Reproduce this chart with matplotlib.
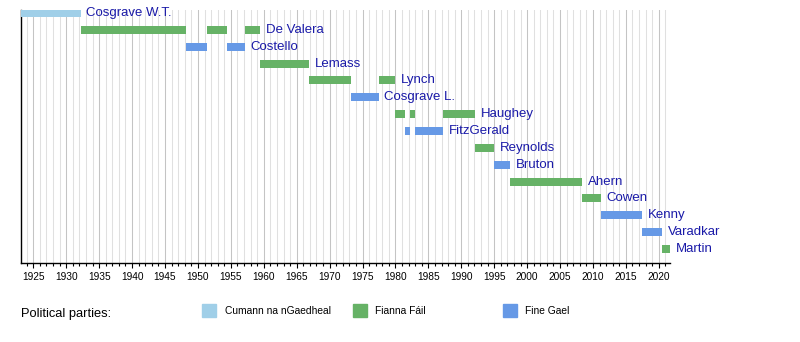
import matplotlib.pyplot as plt
import matplotlib.patches as mpatches
from matplotlib.ticker import MultipleLocator

# taoisigh, top to bottom
names = ['Cosgrave W.T.', 'De Valera', 'Costello', 'Lemass', 'Lynch', 'Cosgrave L.',
         'Haughey', 'FitzGerald', 'Reynolds', 'Bruton', 'Ahern', 'Cowen', 'Kenny',
         'Varadkar', 'Martin']
# terms as (start, end) in decimal years
terms = [
    [(1922.93, 1932.19)],
    [(1932.19, 1948.15), (1951.45, 1954.47), (1957.16, 1959.48)],
    [(1948.15, 1951.45), (1954.47, 1957.16)],
    [(1959.48, 1966.86)],
    [(1966.86, 1973.20), (1977.45, 1979.94)],
    [(1973.20, 1977.45)],
    [(1979.94, 1981.46), (1982.20, 1982.95), (1987.20, 1992.10)],
    [(1981.46, 1982.20), (1982.95, 1987.20)],
    [(1992.10, 1994.96)],
    [(1994.96, 1997.47)],
    [(1997.47, 2008.35)],
    [(2008.35, 2011.19)],
    [(2011.19, 2017.45)],
    [(2017.45, 2020.49)],
    [(2020.49, 2021.8)],
]
party = ['CnG', 'FF', 'FG', 'FF', 'FF', 'FG', 'FF', 'FG', 'FF', 'FG', 'FF', 'FF', 'FG', 'FG', 'FF']

party_names = ['Cumann na nGaedheal', 'Fianna Fáil', 'Fine Gael']
party_keys = ['CnG', 'FF', 'FG']
colors = {'CnG': '#a0cfe8', 'FF': '#66b266', 'FG': '#6699e6'}

x0, x1 = 1923.13, 2021.7

plt.rcParams['font.family'] = ['Liberation Sans', 'DejaVu Sans']

fig = plt.figure(figsize=(8, 3.42), dpi=100)
ax = fig.add_axes([21/800, 1 - 263/342, (670-21)/800, 253/342])

for i in range(len(names)):
    for s, e in terms[i]:
        ax.barh(i, e - s, left=s, height=0.47, color=colors[party[i]], zorder=3)
    last = min(terms[i][-1][1], x1)
    ax.annotate(names[i], (last, i), xytext=(4, 0), textcoords='offset points',
                va='center', ha='left', fontsize=9.5, color='#1a1aa8',
                annotation_clip=False)

ax.set_xlim(x0, x1)
ax.set_ylim(14.83, -0.18)

ax.xaxis.set_major_locator(MultipleLocator(5))
ax.xaxis.set_minor_locator(MultipleLocator(1))
ax.grid(which='minor', axis='x', color='#e0e0e0', lw=0.75, zorder=0)
ax.grid(which='major', axis='x', color='#c4c4c4', lw=0.75, zorder=0)
ax.tick_params(axis='x', which='major', length=3.5, width=0.8, labelsize=7.3, pad=3)
ax.tick_params(axis='x', which='minor', length=2, width=0.8)
ax.set_yticks([])
for s in ['top', 'right']:
    ax.spines[s].set_visible(False)
ax.spines['left'].set_linewidth(1)
ax.spines['bottom'].set_linewidth(1)

# legend
fig.text(21/800, 1 - 314/342, 'Political parties:', fontsize=9.3, va='center', ha='left')
for k, xs in zip(party_keys, [202, 353, 503]):
    fig.patches.append(mpatches.Rectangle((xs/800, 1 - 317/342), 14/800, 13/342,
                                          transform=fig.transFigure, color=colors[k]))
for n, xs in zip(party_names, [225, 375, 525]):
    fig.text(xs/800, 1 - 311/342, n, fontsize=7.4, va='center', ha='left')

fig.savefig('out.png', dpi=100)
